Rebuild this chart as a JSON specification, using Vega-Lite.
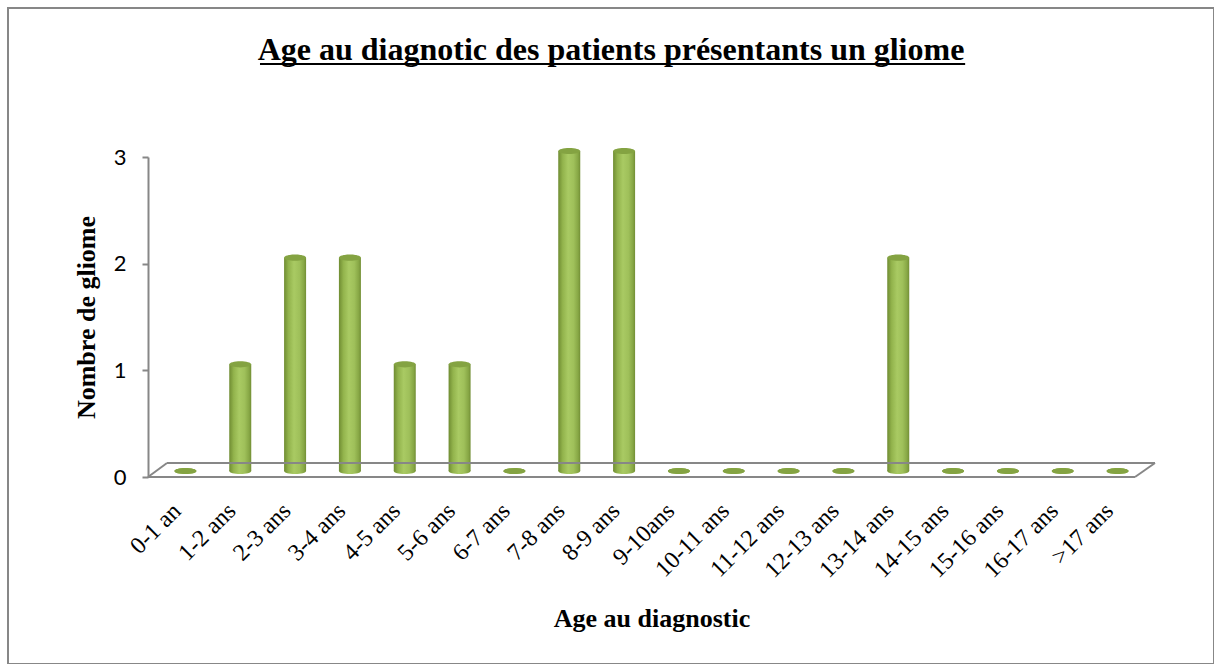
{
  "$schema": "https://vega.github.io/schema/vega-lite/v6.json",
  "autosize": {"type": "none"},
  "width": 1206,
  "height": 656,
  "padding": {"left": 8, "top": 8, "right": 0, "bottom": 0},
  "background": "white",
  "config": {
    "view": {"stroke": "#878787", "strokeWidth": 2},
    "font": "Liberation Serif",
    "axis": {"grid": false}
  },
  "title": {
    "text": "Age au diagnotic des patients présentants un gliome",
    "font": "Liberation Serif",
    "fontSize": 32,
    "fontWeight": "bold",
    "color": "black",
    "anchor": "middle",
    "baseline": "alphabetic",
    "offset": -84
  },
  "data": {
    "values": [
      {"age": "0-1 an", "n": 0},
      {"age": "1-2 ans", "n": 1},
      {"age": "2-3 ans", "n": 2},
      {"age": "3-4 ans", "n": 2},
      {"age": "4-5 ans", "n": 1},
      {"age": "5-6 ans", "n": 1},
      {"age": "6-7 ans", "n": 0},
      {"age": "7-8 ans", "n": 3},
      {"age": "8-9 ans", "n": 3},
      {"age": "9-10ans", "n": 0},
      {"age": "10-11 ans", "n": 0},
      {"age": "11-12 ans", "n": 0},
      {"age": "12-13 ans", "n": 0},
      {"age": "13-14 ans", "n": 2},
      {"age": "14-15 ans", "n": 0},
      {"age": "15-16 ans", "n": 0},
      {"age": "16-17 ans", "n": 0},
      {"age": ">17 ans", "n": 0}
    ]
  },
  "resolve": {"scale": {"x": "independent", "y": "independent"}, "axis": {"x": "independent", "y": "independent"}},
  "layer": [
    {
      "encoding": {
        "x": {
          "field": "age",
          "type": "nominal",
          "sort": null,
          "scale": {"range": [150, 1137], "paddingInner": 0, "paddingOuter": 0},
          "axis": {
            "orient": "bottom",
            "offset": -187,
            "domain": false,
            "ticks": false,
            "labelAngle": -45,
            "labelAlign": "right",
            "labelBaseline": "middle",
            "labelFont": "Liberation Serif",
            "labelFontSize": 24,
            "labelColor": "black",
            "labelPadding": 30,
            "labelOffset": -8,
            "title": "Age au diagnostic",
            "titleFont": "Liberation Serif",
            "titleFontSize": 26,
            "titleFontWeight": "bold",
            "titleColor": "black",
            "titlePadding": 24
          }
        },
        "y": {
          "field": "n",
          "type": "quantitative",
          "scale": {"domain": [0, 3], "range": [463, 143]},
          "axis": null
        }
      },
      "layer": [
        {
          "mark": {
            "type": "point",
            "shape": "M-1,0A1,0.28,0,1,0,1,0A1,0.28,0,1,0,-1,0Z",
            "size": 484,
            "filled": true,
            "opacity": 1,
            "strokeWidth": 0,
            "fill": {
              "gradient": "linear", "x1": 0, "y1": 0, "x2": 1, "y2": 0,
              "stops": [
                {"offset": 0, "color": "#6f8c32"},
                {"offset": 0.2, "color": "#92b34c"},
                {"offset": 0.45, "color": "#a9ca63"},
                {"offset": 0.7, "color": "#9fc05a"},
                {"offset": 0.9, "color": "#87a745"},
                {"offset": 1, "color": "#728e35"}
              ]
            }
          },
          "encoding": {"y": {"datum": 0, "type": "quantitative"}}
        },
        {
          "mark": {
            "type": "bar",
            "width": 22,
            "fill": {
              "gradient": "linear", "x1": 0, "y1": 0, "x2": 1, "y2": 0,
              "stops": [
                {"offset": 0, "color": "#6f8c32"},
                {"offset": 0.2, "color": "#92b34c"},
                {"offset": 0.45, "color": "#a9ca63"},
                {"offset": 0.7, "color": "#9fc05a"},
                {"offset": 0.9, "color": "#87a745"},
                {"offset": 1, "color": "#728e35"}
              ]
            }
          }
        },
        {
          "mark": {
            "type": "point",
            "shape": "M-1,0A1,0.28,0,1,0,1,0A1,0.28,0,1,0,-1,0Z",
            "size": 484,
            "filled": true,
            "opacity": 1,
            "strokeWidth": 0,
            "fill": "#84a342"
          }
        }
      ]
    },
    {
      "data": {"values": [{}]},
      "layer": [
        {
          "mark": {"type": "rule", "color": "#878787", "strokeWidth": 2, "xOffset": -10, "x2Offset": -10},
          "encoding": {
            "x": {"datum": 0, "type": "quantitative", "scale": {"domain": [0, 18], "range": [150, 1137]}, "axis": null},
            "x2": {"datum": 18},
            "y": {
              "datum": 0,
              "type": "quantitative",
              "scale": {"domain": [0, 3], "range": [469, 149]},
              "axis": {
                "orient": "left",
                "offset": -140,
                "values": [0, 1, 2, 3],
                "format": "d",
                "domainColor": "#878787",
                "domainWidth": 2,
                "tickColor": "#878787",
                "tickWidth": 2,
                "tickSize": 6,
                "labelFont": "Lato",
                "labelFontSize": 22,
                "labelColor": "black",
                "labelPadding": 16,
                "grid": false,
                "title": "Nombre de gliome",
                "titleFont": "Liberation Serif",
                "titleFontSize": 26,
                "titleFontWeight": "bold",
                "titleColor": "black",
                "titlePadding": 14
              }
            }
          }
        },
        {
          "mark": {"type": "rule", "color": "#878787", "strokeWidth": 2, "xOffset": 9, "x2Offset": 10, "yOffset": -14},
          "encoding": {
            "x": {"datum": 0, "type": "quantitative"},
            "x2": {"datum": 18},
            "y": {"datum": 0, "type": "quantitative"}
          }
        },
        {
          "mark": {"type": "rule", "color": "#878787", "strokeWidth": 2, "xOffset": 10, "x2Offset": -10, "yOffset": -14, "y2Offset": 0},
          "encoding": {
            "x": {"datum": 18, "type": "quantitative"},
            "x2": {"datum": 18},
            "y": {"datum": 0, "type": "quantitative"},
            "y2": {"datum": 0}
          }
        },
        {
          "mark": {"type": "rule", "color": "#878787", "strokeWidth": 2, "xOffset": -10, "x2Offset": 9, "yOffset": 0, "y2Offset": -14},
          "encoding": {
            "x": {"datum": 0, "type": "quantitative"},
            "x2": {"datum": 0},
            "y": {"datum": 0, "type": "quantitative"},
            "y2": {"datum": 0}
          }
        },
        {
          "mark": {"type": "rule", "color": "black", "strokeWidth": 2},
          "encoding": {
            "x": {"datum": 1.86, "type": "quantitative"},
            "x2": {"datum": 14.72},
            "y": {"datum": 3.872, "type": "quantitative"}
          }
        }
      ]
    }
  ]
}
